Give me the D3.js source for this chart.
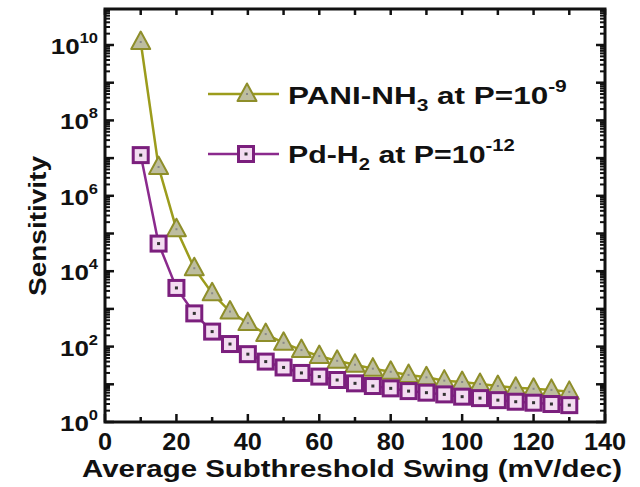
<!DOCTYPE html>
<html><head><meta charset="utf-8">
<script src="https://cdn.jsdelivr.net/npm/d3@7"></script>
<style>body{margin:0;background:#fff}svg{display:block}text{font-family:"Liberation Sans",Arial,sans-serif;font-weight:bold;fill:#111}</style>
</head><body>
<svg id="c" width="640" height="487"></svg>
<script>
const swing = [10,15,20,25,30,35,40,45,50,55,60,65,70,75,80,85,90,95,100,105,110,115,120,125,130];
const pani = [1.2e10,5.8e6,1.3e5,1.2e4,2.6e3,850,420,215,126,81,56,42,33,26,21.5,17.7,15.3,12.5,11.5,10.2,9,8.1,7.6,7.1,6.3];
const pd = [1.2e7,5.4e4,3.6e3,760,250,117,63,40,28,20,16,13,10.6,9,7.8,6.6,6.0,5.4,4.7,4.3,3.8,3.45,3.25,3.0,2.8];
const xTicks = [0,20,40,60,80,100,120,140];
const yLabelExps = [0,2,4,6,8,10];

const svg = d3.select("#c");
const L=105,R=605,T=9,B=422;
const x = d3.scaleLinear().domain([0,140]).range([L,R]);
const y = d3.scaleLog().domain([1,Math.pow(10,10.955)]).range([B,T]);

// series
const line = d3.line().x((d,i)=>x(swing[i])).y(d=>y(d));
svg.append("path").attr("d",line(pani)).attr("fill","none").attr("stroke","#9c9c1c").attr("stroke-width",2.5);
function tri(g,cx,cy){
  g.append("path").attr("d",`M${cx},${cy-10.5}L${cx+9.5},${cy+7}L${cx-9.5},${cy+7}Z`)
   .attr("fill","#bdbd9f").attr("stroke","#8e8e2a").attr("stroke-width",2).attr("stroke-linejoin","round");
  g.append("rect").attr("x",cx-1).attr("y",cy-1).attr("width",2).attr("height",2).attr("fill","#888");
}
function sq(g,cx,cy){
  g.append("rect").attr("x",cx-7.5).attr("y",cy-7.5).attr("width",15).attr("height",15)
   .attr("fill","#f3dcf1").attr("stroke","#7b1f7d").attr("stroke-width",3);
  g.append("rect").attr("x",cx-1.5).attr("y",cy-1.5).attr("width",3).attr("height",3).attr("fill","#333");
}
const gp = svg.append("g");
pani.forEach((v,i)=>tri(gp,x(swing[i]),y(v)));
svg.append("path").attr("d",line(pd)).attr("fill","none").attr("stroke","#8b2a8d").attr("stroke-width",2.5);
const gq = svg.append("g");
pd.forEach((v,i)=>sq(gq,x(swing[i]),y(v)));

// frame
svg.append("rect").attr("x",L).attr("y",T).attr("width",R-L).attr("height",B-T).attr("fill","none").attr("stroke","#111").attr("stroke-width",3);

// axes (ticks inward)
const minor = [];
for(let e=0;e<11;e++) for(let m=2;m<=9;m++){const v=m*Math.pow(10,e); if(y(v)>T+1) minor.push(v);}
const decades = d3.range(0,11).map(e=>Math.pow(10,e));
const ax = svg.append("g").attr("stroke","#111");
decades.forEach(v=>{
  ax.append("line").attr("x1",L).attr("x2",L+9).attr("y1",y(v)).attr("y2",y(v)).attr("stroke-width",2.5);
  ax.append("line").attr("x1",R).attr("x2",R-9).attr("y1",y(v)).attr("y2",y(v)).attr("stroke-width",2.5);
});
minor.forEach(v=>{
  ax.append("line").attr("x1",L).attr("x2",L+5).attr("y1",y(v)).attr("y2",y(v)).attr("stroke-width",2);
  ax.append("line").attr("x1",R).attr("x2",R-5).attr("y1",y(v)).attr("y2",y(v)).attr("stroke-width",2);
});
d3.range(0,141,10).forEach(v=>{
  const maj = v%20===0;
  ax.append("line").attr("x1",x(v)).attr("x2",x(v)).attr("y1",B).attr("y2",B-(maj?8:5)).attr("stroke-width",2.5);
  ax.append("line").attr("x1",x(v)).attr("x2",x(v)).attr("y1",T).attr("y2",T+6).attr("stroke-width",2.5);
});

// tick labels
xTicks.forEach(v=>{
  svg.append("g").attr("transform",`translate(${x(v)},450) scale(1.1,1)`)
    .append("text").attr("x",0).attr("y",0).attr("text-anchor","middle").attr("font-size",23).text(v);
});
yLabelExps.forEach(e=>{
  const g = svg.append("g").attr("transform",`translate(98,${y(Math.pow(10,e))+9}) scale(1.18,1)`);
  const t = g.append("text").attr("x",0).attr("y",0).attr("text-anchor","end").attr("font-size",22);
  t.append("tspan").text("10");
  t.append("tspan").attr("dy",-11).attr("font-size",14).text(e);
});

// axis titles
svg.append("text").attr("x",352).attr("y",477).attr("text-anchor","middle").attr("font-size",23)
  .attr("textLength",540).attr("lengthAdjust","spacingAndGlyphs").text("Average Subthreshold Swing (mV/dec)");
svg.append("text").attr("transform","translate(46,226) rotate(-90)").attr("text-anchor","middle").attr("font-size",24)
  .attr("textLength",140).attr("lengthAdjust","spacingAndGlyphs").text("Sensitivity");

// legend
const lg = svg.append("g");
lg.append("line").attr("x1",208).attr("x2",279).attr("y1",94).attr("y2",94).attr("stroke","#9c9c1c").attr("stroke-width",2.5);
tri(lg,247,94);
lg.append("line").attr("x1",208).attr("x2",279).attr("y1",154).attr("y2",154).attr("stroke","#8b2a8d").attr("stroke-width",2.5);
sq(lg,246,154);
function legText(yb, main, sub, rest, sup, targetW){
  const g = lg.append("g").attr("transform",`translate(288,${yb})`);
  const t = g.append("text").attr("x",0).attr("y",0).attr("font-size",24);
  t.append("tspan").text(main);
  t.append("tspan").attr("dy",7).attr("font-size",16).text(sub);
  t.append("tspan").attr("dy",-7).text(rest);
  t.append("tspan").attr("dy",-12).attr("font-size",16).text(sup);
  const w = t.node().getBBox().width;
  g.attr("transform",`translate(288,${yb}) scale(${targetW/w},1)`);
}
legText(104,"PANI-NH","3"," at P=10","-9",279);
legText(163,"Pd-H","2"," at P=10","-12",227);
</script>
</body></html>
